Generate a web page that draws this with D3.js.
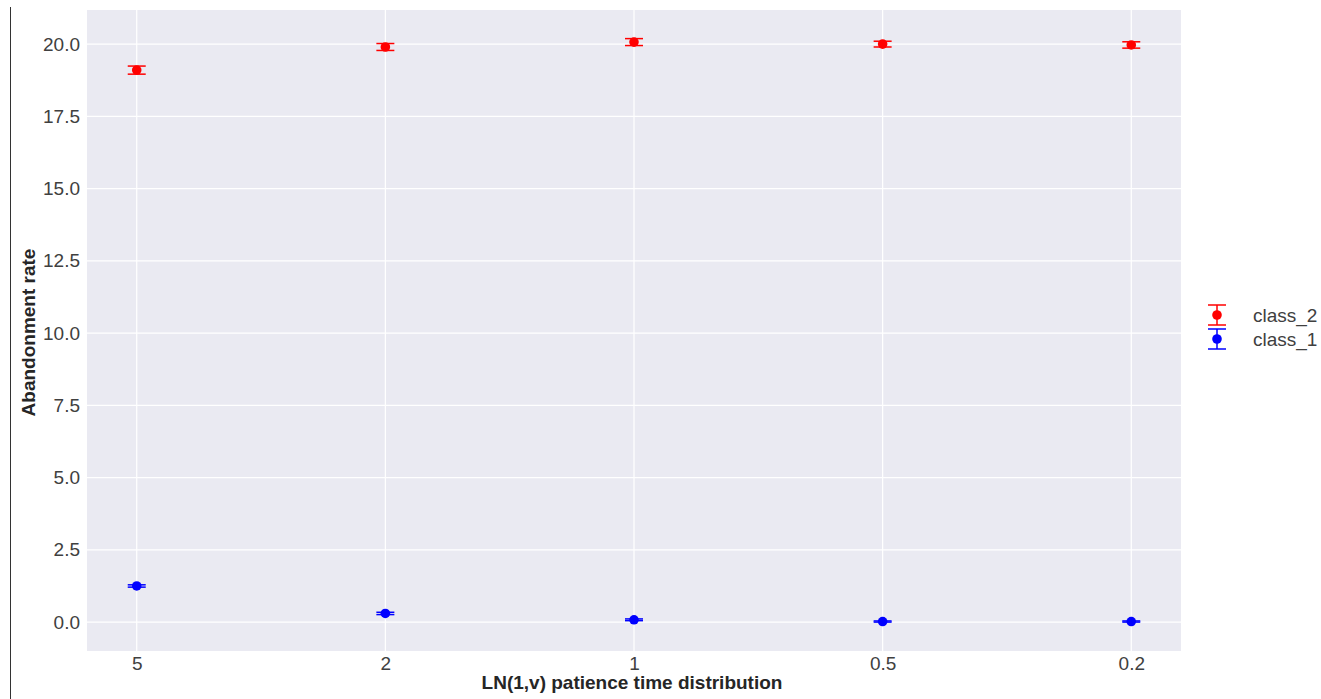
<!DOCTYPE html>
<html><head><meta charset="utf-8">
<script src="https://cdn.jsdelivr.net/npm/d3@7"></script>
<style>body{margin:0;background:#fff;}svg{display:block;font-family:"Liberation Sans",Arial,sans-serif;}</style>
</head><body>
<svg id="c" width="1321" height="699"></svg>
<script>
const categories = ["5","2","1","0.5","0.2"];
const class2 = [19.1, 19.9, 20.07, 20.0, 19.97];
const class2Err = [0.14, 0.12, 0.12, 0.1, 0.11];
const class1 = [1.25, 0.3, 0.08, 0.02, 0.02];
const class1Err = [0.04, 0.04, 0.03, 0.02, 0.02];
const yTicks = [0,2.5,5,7.5,10,12.5,15,17.5,20];
const seriesNames = ["class_2","class_1"];
const seriesColors = ["#ff0000","#0000ff"];

const svg = d3.select("#c");
const L=87,R=1181,T=10,B=651;
const x = d3.scaleLinear().domain([-0.2,4.2]).range([L,R]);
const y = d3.scaleLinear().domain([-1.0,21.18]).range([B,T]);
const FS = 19;

svg.append("line").attr("x1",10.5).attr("x2",10.5).attr("y1",7).attr("y2",699).attr("stroke","#333").attr("stroke-width",1);
svg.append("rect").attr("x",L).attr("y",T).attr("width",R-L).attr("height",B-T).attr("fill","#eaeaf2");

const g = svg.append("g");
yTicks.forEach(t=>{
  g.append("line").attr("x1",L).attr("x2",R).attr("y1",y(t)).attr("y2",y(t)).attr("stroke","#fff").attr("stroke-width",1.2);
});
categories.forEach((c,i)=>{
  g.append("line").attr("x1",x(i)).attr("x2",x(i)).attr("y1",T).attr("y2",B).attr("stroke","#fff").attr("stroke-width",1.2);
});

const yAxis = svg.append("g").attr("transform",`translate(${L},0)`)
  .call(d3.axisLeft(y).tickValues(yTicks).tickFormat(d3.format(".1f")).tickSize(0).tickPadding(7));
yAxis.select(".domain").remove();
yAxis.selectAll("text").attr("font-size",FS).attr("fill","#404040").attr("font-family","Liberation Sans, Arial, sans-serif");

const xAxis = svg.append("g").attr("transform",`translate(0,${B})`)
  .call(d3.axisBottom(x).tickValues(d3.range(categories.length)).tickFormat(i=>categories[i]).tickSize(0).tickPadding(6));
xAxis.select(".domain").remove();
xAxis.selectAll("text").attr("font-size",FS).attr("fill","#404040").attr("font-family","Liberation Sans, Arial, sans-serif");

function drawSeries(vals, errs, color){
  const s = svg.append("g");
  vals.forEach((v,i)=>{
    const cx=x(i);
    s.append("line").attr("x1",cx).attr("x2",cx).attr("y1",y(v-errs[i])).attr("y2",y(v+errs[i])).attr("stroke",color).attr("stroke-width",1.5);
    [v-errs[i],v+errs[i]].forEach(e=>{
      s.append("line").attr("x1",cx-9).attr("x2",cx+9).attr("y1",y(e)).attr("y2",y(e)).attr("stroke",color).attr("stroke-width",1.5);
    });
    s.append("circle").attr("cx",cx).attr("cy",y(v)).attr("r",4.8).attr("fill",color);
  });
}
drawSeries(class2,class2Err,seriesColors[0]);
drawSeries(class1,class1Err,seriesColors[1]);

// legend
const leg = svg.append("g");
seriesNames.forEach((n,i)=>{
  const cy = 315 + i*24, cx=1217, col=seriesColors[i];
  leg.append("line").attr("x1",cx).attr("x2",cx).attr("y1",cy-10).attr("y2",cy+10).attr("stroke",col).attr("stroke-width",1.5);
  leg.append("line").attr("x1",cx-9).attr("x2",cx+9).attr("y1",cy-10).attr("y2",cy-10).attr("stroke",col).attr("stroke-width",1.5);
  leg.append("line").attr("x1",cx-9).attr("x2",cx+9).attr("y1",cy+10).attr("y2",cy+10).attr("stroke",col).attr("stroke-width",1.5);
  leg.append("circle").attr("cx",cx).attr("cy",cy).attr("r",4.8).attr("fill",col);
  leg.append("text").attr("x",1253).attr("y",cy+7).text(n).attr("font-size",FS).attr("fill","#404040");
});

svg.append("text").attr("transform",`translate(35,${(T+B)/2 + 2}) rotate(-90)`).attr("text-anchor","middle")
  .attr("font-size",FS).attr("font-weight","bold").attr("fill","#262626").text("Abandonment rate");
svg.append("text").attr("x",(L+R)/2 - 2).attr("y",689).attr("text-anchor","middle")
  .attr("font-size",FS).attr("font-weight","bold").attr("fill","#262626").text("LN(1,v) patience time distribution");
</script>
</body></html>
